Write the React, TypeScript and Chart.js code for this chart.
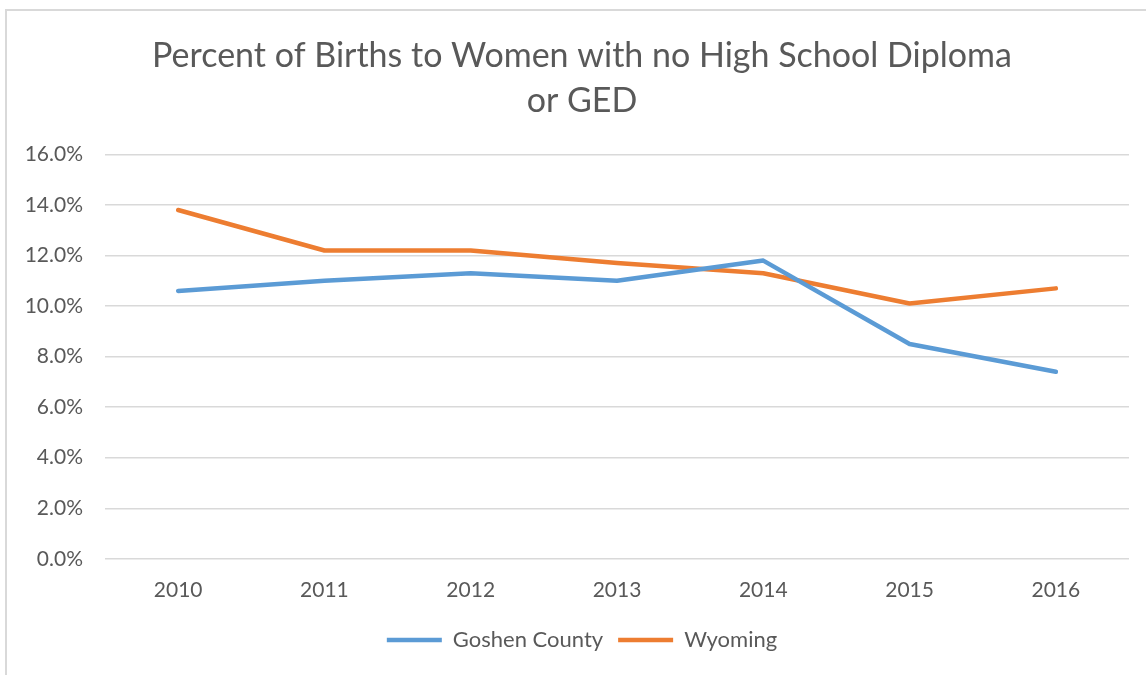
import React, { useEffect, useRef } from "react";
import { Chart, registerables } from "chart.js";

Chart.register(...registerables);

const years = ["2010", "2011", "2012", "2013", "2014", "2015", "2016"];
const goshenCounty = [10.6, 11.0, 11.3, 11.0, 11.8, 8.5, 7.4];
const wyoming = [13.8, 12.2, 12.2, 11.7, 11.3, 10.1, 10.7];
const titleLines = ["Percent of Births to Women with no High School Diploma", "or GED"];

const TEXT = "#595959";
const FONT = "Lato, 'Open Sans', sans-serif";

const shiftPlugin = {
  id: "shiftBoxes",
  beforeDraw(chart: any) {
    const dx = 8.5;
    for (const box of [chart.titleBlock, chart.legend]) {
      if (box && !box.__shifted) {
        box.left += dx;
        box.right += dx;
        box.__shifted = true;
      }
    }
  },
};

export default function App() {
  const ref = useRef<HTMLCanvasElement>(null);
  useEffect(() => {
    if (!ref.current) return;
    const chart = new Chart(ref.current, {
      type: "line",
      data: {
        labels: years,
        datasets: [
          {
            label: "Goshen County",
            data: goshenCounty,
            borderColor: "#5B9BD5",
            backgroundColor: "#5B9BD5",
            borderWidth: 4.5,
            pointRadius: 0,
            tension: 0,
            borderCapStyle: "round",
            borderJoinStyle: "round",
          },
          {
            label: "Wyoming",
            data: wyoming,
            borderColor: "#ED7D31",
            backgroundColor: "#ED7D31",
            borderWidth: 4.5,
            pointRadius: 0,
            tension: 0,
            borderCapStyle: "round",
            borderJoinStyle: "round",
          },
        ],
      },
      plugins: [shiftPlugin],
      options: {
        animation: false,
        responsive: false,
        maintainAspectRatio: false,
        layout: { padding: { left: 18, right: 17, top: 33, bottom: 14 } },
        plugins: {
          tooltip: { enabled: false },
          title: {
            display: true,
            text: titleLines,
            color: TEXT,
            font: { family: FONT, size: 34, weight: "normal", lineHeight: 1.33 },
            padding: { top: 0, bottom: 31 },
          },
          legend: {
            position: "bottom",
            labels: {
              color: TEXT,
              font: { family: FONT, size: 22 },
              usePointStyle: true,
              pointStyle: "line",
              pointStyleWidth: 55,
              boxHeight: 20,
              padding: 15,
            },
          },
        },
        scales: {
          x: {
            offset: true,
            grid: { display: false },
            border: { display: false },
            ticks: { color: TEXT, font: { family: FONT, size: 21 }, padding: 11 },
          },
          y: {
            min: 0,
            max: 16,
            afterFit: (s: any) => {
              s.width = 87;
            },
            grid: { color: "#D9D9D9", lineWidth: 1.5, drawTicks: false },
            border: { display: false },
            ticks: {
              stepSize: 2,
              color: TEXT,
              font: { family: FONT, size: 21 },
              padding: 22,
              callback: (v: any) => Number(v).toFixed(1) + "%",
            },
          },
        },
      },
    });
    return () => chart.destroy();
  }, []);

  return (
    <div
      style={{
        position: "fixed",
        left: 0,
        top: 0,
        width: 1146,
        height: 675,
        overflow: "hidden",
        background: "#fff",
      }}
    >
      <div
        style={{
          position: "absolute",
          left: 5,
          top: 9,
          width: 1200,
          height: 700,
          border: "2px solid #D9D9D9",
        }}
      />
      <canvas
        ref={ref}
        width={1146}
        height={675}
        style={{ position: "absolute", left: 0, top: 0 }}
      />
    </div>
  );
}
